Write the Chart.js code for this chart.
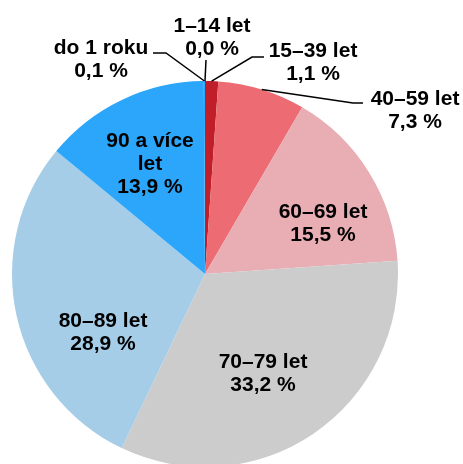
<!DOCTYPE html>
<html>
<head>
<meta charset="utf-8">
<script src="https://cdn.jsdelivr.net/npm/chart.js@4/dist/chart.umd.min.js"></script>
<style>
  html, body { margin: 0; padding: 0; background: #fff; overflow: hidden; }
  #wrap { width: 463px; height: 464px; overflow: hidden; }
</style>
</head>
<body>
<div id="wrap"><canvas id="pie" width="463" height="470"></canvas></div>
<script>
// age groups, clockwise from 12 o'clock
const categories = ['1–14 let', '15–39 let', '40–59 let', '60–69 let', '70–79 let', '80–89 let', '90 a více let', 'do 1 roku'];
const shares = [0.0, 1.1, 7.3, 15.5, 33.2, 28.9, 13.9, 0.1];
const colors = ['#b01c26', '#c01f2a', '#ed6b73', '#e8aeb4', '#cccccc', '#a6cde8', '#2ba6fa', '#2ba6fa'];

// label placement, offsets from pie centre (px)
const labelLayout = [
    { out: true, elbow: null, end: [1, -214], text: [7, -242] },
    { out: true, elbow: [47, -217], end: [59, -217], text: [108, -217] },
    { out: true, elbow: [148, -171], end: [158, -171], text: [210, -169] },
    { text: [118, -56] },
    { text: [58, 94] },
    { text: [-102, 53] },
    { text: [-55, -127], lines: ['90 a více', 'let'] },
    { out: true, elbow: [-39, -221], end: [-52, -221], text: [-104, -220] }
];

function fmt(v) {
    return v.toFixed(1).replace('.', ',') + ' %';
}

const labelPlugin = {
    id: 'pieLabels',
    afterDraw(chart) {
        const ctx = chart.ctx;
        const meta = chart.getDatasetMeta(0);
        ctx.save();
        ctx.font = 'bold 21px "Liberation Sans", Arial, sans-serif';
        ctx.fillStyle = '#000';
        ctx.strokeStyle = '#000';
        ctx.lineWidth = 1.5;
        ctx.textAlign = 'center';
        ctx.textBaseline = 'alphabetic';
        meta.data.forEach((arc, i) => {
            const lay = labelLayout[i];
            const cx = arc.x, cy = arc.y;
            if (lay.out) {
                const mid = (arc.startAngle + arc.endAngle) / 2;
                const ax = cx + Math.cos(mid) * arc.outerRadius;
                const ay = cy + Math.sin(mid) * arc.outerRadius;
                ctx.beginPath();
                ctx.moveTo(ax, ay);
                if (lay.elbow) ctx.lineTo(cx + lay.elbow[0], cy + lay.elbow[1]);
                ctx.lineTo(cx + lay.end[0], cy + lay.end[1]);
                ctx.stroke();
            }
            const lines = (lay.lines || [categories[i]]).concat([fmt(shares[i])]);
            lines.forEach((t, k) => {
                ctx.fillText(t, cx + lay.text[0], cy + lay.text[1] + k * 23);
            });
        });
        ctx.restore();
    }
};

new Chart(document.getElementById('pie'), {
    type: 'pie',
    data: {
        labels: categories,
        datasets: [{
            data: shares,
            backgroundColor: colors,
            borderWidth: 0
        }]
    },
    options: {
        responsive: false,
        animation: false,
        layout: { padding: { left: 12, right: 65, top: 81, bottom: 3 } },
        plugins: {
            legend: { display: false },
            tooltip: { enabled: false }
        }
    },
    plugins: [labelPlugin]
});
</script>
</body>
</html>
